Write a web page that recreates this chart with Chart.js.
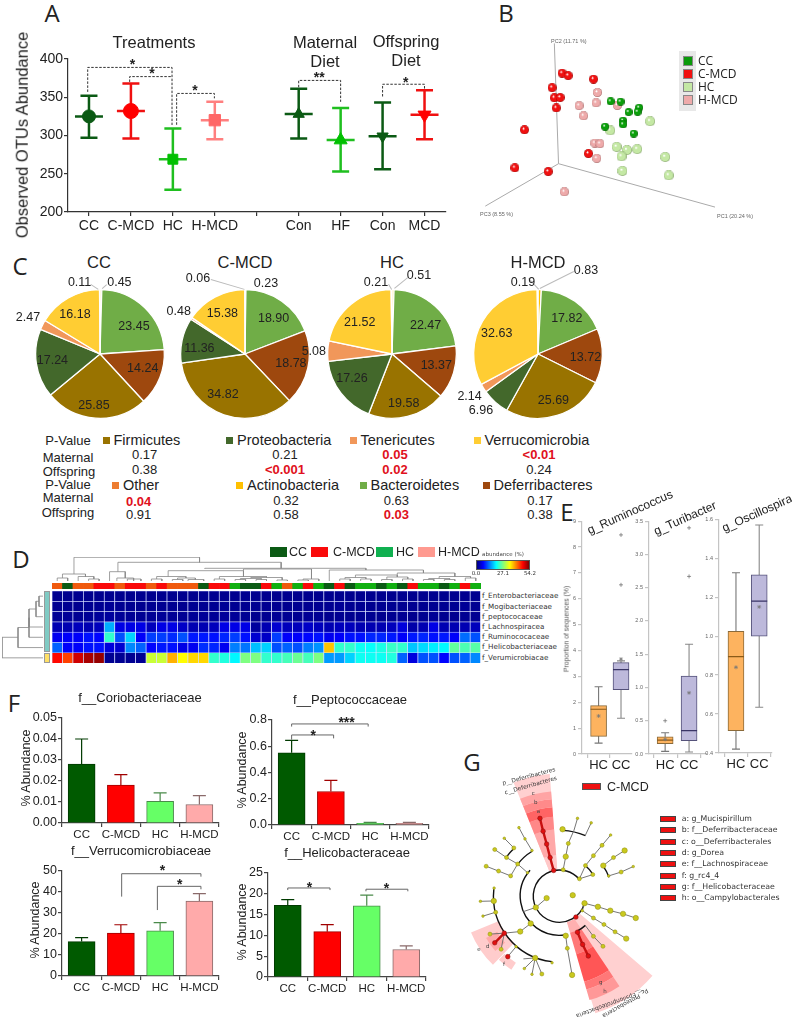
<!DOCTYPE html>
<html>
<head>
<meta charset="utf-8">
<title>Gut microbiota panels</title>
<style>
html, body { margin: 0; background: #fff; }
#page { position: relative; width: 792px; height: 1021px; overflow: hidden; font-family: "Liberation Sans", Arial, sans-serif; color: #222; }
canvas { position: absolute; }
.t { position: absolute; white-space: nowrap; line-height: 1; }
.b { position: absolute; }
</style>
<script src="https://cdn.jsdelivr.net/npm/chart.js@4"></script>
</head>
<body>
<div id="page"></div>
<script>
// ---- A: observed OTUs
const otuLabels = ["CC", "C-MCD", "HC", "H-MCD", "", "Con", "HF", "Con", "MCD"];
const otuMean = [325, 332, 269, 320, null, 328, 294, 299, 327];
const otuLow = [297, 296, 229, 295, null, 296, 253, 256, 295];
const otuHigh = [352, 368, 309, 344, null, 361, 336, 343, 359];

// ---- B: PCoA, projected positions on the plane of the picture
const pcCC = [[450,301],[481,302],[539,321],[534,334],[506,335],[489,362],[489,374],[433,381],[522,403]];
const pcCMCD = [[299,212],[318,220],[397,231],[268,258],[275,290],[293,289],[281,322],[182,391],[152,511],[256,523],[381,466]];
const pcHC = [[573,364],[449,393],[469,445],[501,455],[533,452],[484,475],[620,477],[487,521],[631,535]];
const pcHMCD = [[409,273],[405,306],[352,315],[366,347],[471,314],[401,433],[417,435],[407,481],[306,587]];
const pcAxes = [[[288,498],[275,118]], [[288,498],[775,635]], [[288,498],[60,632]]];

// ---- C: phylum composition
const phyla = ["Actinobacteria", "Bacteroidetes", "Deferribacteres", "Firmicutes", "Proteobacteria", "Tenericutes", "Verrucomicrobia", "Other"];
const pieCC = [0.45, 23.45, 14.24, 25.85, 17.24, 2.47, 16.18, 0.11];
const pieCMCD = [0.23, 18.90, 18.78, 34.82, 11.36, 0.48, 15.38, 0.06];
const pieHC = [0.51, 22.47, 13.37, 19.58, 17.26, 5.08, 21.52, 0.21];
const pieHMCD = [0.83, 17.82, 13.72, 25.69, 6.96, 2.14, 32.63, 0.19];

// ---- D: heat map, abundance %
const heatNames = ["f_Enterobacteriaceae", "f_Mogibacteriaceae", "f_peptococaceae", "f_Lachnospiracea", "f_Ruminococaceae", "f_Helicobacteriaceae", "f_Verumicrobiacae"];
const heatEntero = [.8,.8,.9,.8,.8,.9,.8,.8,.9,.8,.8,.9,.8,.8,.8,.9,.8,.8,.9,.8,.8,.8,.9,.8,.8,.8,.9,.8,.8,.9,.8,.8,.8,.9,.8,.8,.9,.8,.8,.8,.9];
const heatMogi = [1,1,.9,1,1,1.2,1,1,.9,1,1,1,.9,1,1,1,1.2,1,.9,1,1,1,.9,1,1,1,1,1.2,1,1,.9,1,1,1,1,.9,1,1,1,1.2,1];
const heatPepto = [1.2,1.3,1.1,1.2,1.4,1.6,1.3,1.2,1.1,1.2,1.3,1.2,1.1,1.2,1.3,1.2,1.4,1.3,1.1,.9,1,1.2,1.1,1,1.2,1.1,.8,1,.9,1,1,.9,1,1.1,.8,.9,1.2,.9,.9,1,1];
const heatLachno = [2.7,2.7,3.2,2.7,3.2,16,5.4,5.4,5.4,3.2,5.4,5.4,3.8,2.7,2.7,3.2,5.4,5.4,5.4,1.6,2.7,4.3,3.2,3.2,3.8,3.2,2.7,3.2,3.2,2.7,2.7,2.7,3.2,4.9,2.2,2.7,5.4,2.7,2.7,2.7,3.2];
const heatRumino = [6,6.5,6.5,7.6,7,23,11,18,6.5,10,10,9,11,8,8,7.6,8.7,10,7.6,4.3,3.8,10,6.5,6.5,7,7.6,6,6.5,7.6,7.6,8.7,8.7,8,6.5,8,8.7,7.6,8,6.5,12.5,11];
const heatHelico = [12,6.5,6.5,7.6,7.6,4.9,4.3,14,12,7,8,7.6,5.4,6,9.2,8.7,6,13.5,13,17,18,11,12,11,13.5,14.6,37,23,23,21,20.6,21.7,23.3,23,17.3,18.4,19.5,20,25.5,24.4,25];
const heatVerruco = [47,44,50,52,53,1,1,1,1,31,31,38,34,36,36,23,22,20,27,27,23,23,24,26,24,27,15,15,18,21,21,21,22,12,5,11,11,7,11,12,14];
const sampleGroup = ["H","C","H","H","M","M","H","M","M","H","M","H","H","H","C","M","M","G","C","C","M","G","H","G","M","G","C","M","C","G","G","C","G","C","M","G","G","C","G","M","G"];
// merges: left column, left height, right column, right height, top
const dendroTop = [
  [.5,1,1.5,1,4],[3.5,1,4.5,1,3],[2.5,1,4,3,5.5],[1,4,3.2,5.5,8],
  [6.2,1,7.8,1,4],[7.2,1,8.5,1,3],[5.5,1,7,4,10.3],
  [9.5,1,10.5,1,3],[11.5,1,12.5,1,2.5],[13,1,14.5,1,2.5],[12,2.5,13.7,2.5,4],[10,3,12.8,4,5.5],
  [15.5,1,16.5,1,3],[17.5,1,18.5,1,2.5],[19.5,1,20.5,1,2.5],[21.5,1,22.5,1,2],[18,2.5,20,2.5,3.5],[19,3.5,22,2,4.5],[16,3,20.5,4.5,5.5],
  [11.1,5.5,18.3,5.5,11.3],[23.5,1,24.5,1,2],[24,2,25.5,1,3],[18.3,11.3,24.8,3,13],
  [27.5,1,28.5,1,3],[29.5,1,30.5,1,3],[28,3,30,3,4.5],[31.5,1,32.5,1,2.5],[33.5,1,34.5,1,3],[32,2.5,34,3,5],[29,4.5,33,5,7],
  [35.5,1,36.5,1,2.5],[37.5,1,38.5,1,2.5],[39.5,1,40.5,1,4],[36,2.5,38,2.5,3.5],[37,3.5,40,4,5.5],[33,7,38.5,5.5,9],
  [26.5,1,35.5,9,12],[14.6,13,30,12,13.7],[6.3,10.3,21.9,13.7,19.7],[2.1,8,14.1,19.7,24.7]
];
const dendroLeft = [[0,0,1,0,4],[.5,4,2,0,7],[1.25,7,3,0,14],[2.1,14,4,0,14],[3.05,14,5,0,25],[4,25,6,0,41]];

// ---- E: box plots, [low, q1, median, q3, high] per group
const boxGroups = ["HC", "CC"];
const ruminoBox = [[.42,.68,1.73,1.87,2.6],[1.38,2.49,3.26,3.53,3.6]];
const ruminoMean = [1.47, 3.67];
const ruminoOut = [[2,6.54],[2,8.47]];
const turiBox = [[.04,.155,.21,.26,.32],[.03,.2,.35,1.17,1.65]];
const turiMean = [.22, .92];
const turiOut = [[1,.5],[2,2.67],[2,3.4]];
const oscilBox = [[.42,.515,.895,1.025,1.325],[.635,1,1.18,1.315,1.57]];
const oscilMean = [.84, 1.15];

// ---- F: bars with error
const barLabels = ["CC", "C-MCD", "HC", "H-MCD"];
const corioMean = [.028, .018, .0103, .0088];
const corioErr = [.04, .023, .0143, .013];
const peptoMean = [.55, .255, .012, .012];
const peptoErr = [.645, .34, .02, .02];
const verrMean = [16.4, 20.4, 21.5, 35.7];
const verrErr = [18.3, 24.4, 25.4, 39.2];
const heliMean = [17.2, 10.9, 17.1, 6.6];
const heliErr = [18.6, 12.6, 19.7, 7.5];

// ---- G: cladogram, positions on the plane of the picture
const cladoEdges = [
  [[370,448],[378,407],[386,366],[404,325],[415,288]], [[440,340],[458,302]],
  [[421,476],[440,435],[465,404],[492,372],[519,340]], [[421,476],[463,463]],
  [[496,435],[528,410],[563,388]], [[513,467],[552,455],[590,438]],
  [[284,565],[318,536]], [[284,565],[245,578]], [[268,615],[235,640],[185,645]],
  [[185,645],[140,648]], [[185,645],[175,695]], [[222,687],[196,718]],
  [[282,722],[248,755]], [[282,722],[272,773]], [[282,722],[303,772]], [[282,722],[245,725]],
  [[378,653],[383,692],[398,775]], [[152,545],[110,546]], [[158,580],[118,592]],
  [[227,430],[205,467],[167,452],[128,437]], [[227,430],[258,457]],
  [[272,388],[250,352],[231,317]], [[215,380],[185,350]], [[192,410],[155,385]], [[227,430],[192,410]],
  [[430,575],[437,552],[479,563],[518,575],[558,585],[598,598]],
  [[430,575],[465,598],[498,618],[533,641],[568,662]], [[440,622],[465,655],[495,686]]
];
const cladoRed = [[[340,450],[329,410],[318,368],[307,328],[297,288]], [[415,642],[431,680],[449,716]], [[185,645],[155,675]]];
const cladoRedNodes = [[340,450],[329,410],[318,368],[307,328],[297,288],[410,595],[415,642],[431,680],[449,716],[185,645],[155,675],[196,718]];
const cladoSmall = [[415,288],[458,302],[519,340],[590,438],[258,457],[185,350],[272,388],[231,317],[250,352],[153,505],[110,546],[118,592],[248,755],[272,773],[335,737],[222,687],[513,467],[430,575]];
const cladoMid = [[386,366],[440,435],[465,404],[492,372],[463,463],[528,410],[552,455],[465,598],[498,618],[533,641],[465,655],[495,686],[205,467],[167,452],[128,437],[192,410],[155,385],[215,380],[140,648],[175,695],[158,580],[383,692],[303,772],[227,430],[421,476],[370,448]];
const cladoLarge = [[378,407],[368,322],[496,435],[563,388],[437,552],[479,563],[518,575],[558,585],[598,598],[568,662],[284,565],[268,615],[235,640],[152,545],[282,722],[378,653],[398,775],[318,536],[400,527]];
const cladoLegend = ["a: g_Mucispirillum", "b: f__Deferribacteraceae", "c: o__Deferribacterales", "d: g_Dorea", "e: f__Lachnospiraceae", "f: g_rc4_4", "g: f__Helicobacteraceae", "h: o__Campylobacterales"];

const page = document.getElementById("page");
const FONT = '"Liberation Sans", Arial, sans-serif';
Chart.defaults.animation = false;
Chart.defaults.responsive = false;
Chart.defaults.font.family = FONT;
Chart.defaults.color = "#222";
Chart.defaults.events = [];
Chart.defaults.plugins.legend.display = false;
Chart.defaults.plugins.tooltip.enabled = false;

function txt(str, x, y, o) {
  o = o || {};
  const d = document.createElement("div");
  d.className = "t";
  d.textContent = str;
  d.style.left = x + "px";
  d.style.top = y + "px";
  d.style.fontSize = (o.size || 12) + "px";
  if (o.bold) d.style.fontWeight = "bold";
  if (o.color) d.style.color = o.color;
  if (o.font) d.style.fontFamily = o.font;
  const ax = o.left ? "0" : "-50%";
  d.style.transform = `translate(${ax},-50%) rotate(${o.rot || 0}deg)`;
  page.appendChild(d);
}

function box(x, y, w, h, bg, border) {
  const d = document.createElement("div");
  d.className = "b";
  d.style.cssText = `left:${x}px;top:${y}px;width:${w}px;height:${h}px;background:${bg};` + (border ? `box-sizing:border-box;border:1px solid ${border};` : "");
  page.appendChild(d);
  return d;
}

function seg(x1, y1, x2, y2, color) {
  const d = box(x1, y1, Math.hypot(x2 - x1, y2 - y1), 0.8, color || "#bbb");
  d.style.transformOrigin = "0 0";
  d.style.transform = `rotate(${Math.atan2(y2 - y1, x2 - x1)}rad)`;
}

function canvasAt(x, y, w, h) {
  const c = document.createElement("canvas");
  c.width = w;
  c.height = h;
  c.style.left = x + "px";
  c.style.top = y + "px";
  page.appendChild(c);
  return c;
}

// error bars and significance marks, all placed through the chart scales
const whiskerPlugin = {
  id: "whisker",
  beforeDatasetsDraw(chart, args, o) {
    if (!o.x) return;
    const { ctx, scales } = chart;
    ctx.save();
    o.x.forEach((v, i) => {
      const px = scales.x.getPixelForValue(v);
      const lo = scales.y.getPixelForValue(o.low[i]);
      const hi = scales.y.getPixelForValue(o.high[i]);
      ctx.strokeStyle = o.color[i];
      ctx.lineWidth = o.width;
      ctx.beginPath();
      ctx.moveTo(px, lo); ctx.lineTo(px, hi);
      ctx.moveTo(px - o.cap, hi); ctx.lineTo(px + o.cap, hi);
      if (o.lowCap !== false) { ctx.moveTo(px - o.cap, lo); ctx.lineTo(px + o.cap, lo); }
      ctx.stroke();
    });
    ctx.restore();
  },
  afterDatasetsDraw(chart, args, o) {
    const { ctx, scales } = chart;
    ctx.save();
    (o.brackets || []).forEach(b => {
      ctx.strokeStyle = o.bracketColor || "#555";
      ctx.lineWidth = o.bracketWidth || 1;
      ctx.setLineDash(o.dash || []);
      ctx.beginPath();
      ctx.moveTo(scales.x.getPixelForValue(b[0]), scales.y.getPixelForValue(b[1]));
      ctx.lineTo(scales.x.getPixelForValue(b[0]), scales.y.getPixelForValue(b[4]));
      ctx.lineTo(scales.x.getPixelForValue(b[2]), scales.y.getPixelForValue(b[4]));
      ctx.lineTo(scales.x.getPixelForValue(b[2]), scales.y.getPixelForValue(b[3]));
      ctx.stroke();
    });
    ctx.setLineDash([]);
    ctx.fillStyle = "#222";
    ctx.font = `bold 14px ${FONT}`;
    ctx.textAlign = "center";
    ctx.textBaseline = "middle";
    (o.stars || []).forEach(s => {
      ctx.fillText(s[2], scales.x.getPixelForValue(s[0]), scales.y.getPixelForValue(s[1]) + 3);
    });
    ctx.restore();
  }
};
Chart.register(whiskerPlugin);

function axes(m, xo, yo) {
  const line = xo.line || "#333";
  return {
    x: Object.assign({
      grid: { drawOnChartArea: false, tickLength: 4, color: line, lineWidth: 1.2 },
      border: { color: line, width: 1.2 },
      afterFit: s => { s.height = m.b; }
    }, xo),
    y: Object.assign({
      grid: { drawOnChartArea: false, tickLength: 4, color: line, lineWidth: 1.2 },
      border: { color: line, width: 1.2 },
      afterFit: s => { s.width = m.l; }
    }, yo)
  };
}

// l, t, r, b of the plot area on the page, m = room around it on the canvas
function plot(r, m, cfg) {
  const c = canvasAt(r[0] - m.l, r[1] - m.t, r[2] - r[0] + m.l + m.r, r[3] - r[1] + m.t + m.b);
  cfg.options.layout = { padding: { top: m.t, right: m.r, left: 0, bottom: 0 } };
  return new Chart(c, cfg);
}

// plain chart filling its canvas, no axes drawn
function bare(x, y, w, h, xs, ys, cfg) {
  const c = canvasAt(x, y, w, h);
  cfg.options = Object.assign({}, cfg.options, {
    layout: { padding: 0 },
    scales: { x: Object.assign({ display: false }, xs), y: Object.assign({ display: false }, ys) }
  });
  return new Chart(c, cfg);
}

const toXY = a => a.map(p => ({ x: p[0], y: p[1] }));
const breakUp = lines => lines.flatMap(l => toXY(l).concat({ x: NaN, y: NaN }));

// ---------- panel letters
[["A", 52, 13], ["B", 506, 13], ["C", 20, 266], ["D", 21, 559], ["E", 567, 512], ["F", 14, 703], ["G", 472, 762]].forEach(l => {
  txt(l[0], l[1], l[2], { size: 24, font: '"Open Sans", sans-serif' });
});

// ---------- A
const otuColor = ["#0b5a14", "#f01010", "#1fbf1f", "#ff7f7f", null, "#0b5a14", "#1fbf1f", "#0b5a14", "#f01010"];
const otuFill = ["#0b5a14", "#ff0000", "#00c000", "#ff6666", null, "#0b5a14", "#00c000", "#0b5a14", "#ff0000"];
const otuIdx = [0, 1, 2, 3, 5, 6, 7, 8];
plot([68, 59, 452, 212], { l: 46, t: 22, r: 10, b: 26 }, {
  type: "line",
  data: {
    labels: otuLabels,
    datasets: [
      {
        data: otuMean, showLine: false, pointBackgroundColor: otuFill, pointBorderColor: otuFill,
        pointStyle: ["circle", "circle", "rect", "rect", "circle", "triangle", "triangle", "triangle", "triangle"],
        pointRadius: [6.5, 7.5, 7, 8, 0, 6.5, 7.5, 6.5, 7.5],
        pointRotation: [0, 0, 0, 0, 0, 0, 0, 180, 180]
      },
      {
        data: otuMean, showLine: false, pointStyle: "line", pointRadius: 14,
        pointBorderColor: otuColor, pointBorderWidth: 2.5
      }
    ]
  },
  options: {
    scales: axes({ l: 46, b: 26 },
      { type: "category", offset: true, ticks: { font: { size: 14 }, padding: 2, autoSkip: false, maxRotation: 0 } },
      { min: 200, max: 400, ticks: { stepSize: 50, font: { size: 14 }, padding: 1 } }),
    plugins: {
      whisker: {
        x: otuIdx, low: otuIdx.map(i => otuLow[i]), high: otuIdx.map(i => otuHigh[i]),
        color: otuIdx.map(i => otuColor[i]), width: 2.5, cap: 8.5,
        dash: [2.5, 1.5], bracketColor: "#333",
        brackets: [[-.03,357,1.98,313.7,389],[.97,370,1.98,377,377],[2.09,314,2.99,348.6,355],[5,363,6,344,372],[7,351,8,360,367]],
        stars: [[1.04,396,"*"],[1.5,384,"*"],[2.53,362,"*"],[5.49,378.6,"**"],[7.55,373,"*"]]
      }
    }
  }
});
txt("Observed OTUs Abundance", 22, 135, { size: 16.5, rot: -90 });
txt("Treatments", 154, 42, { size: 16.5 });
txt("Maternal", 325, 42, { size: 16.5 });
txt("Diet", 325, 61, { size: 16.5 });
txt("Offspring", 406, 41, { size: 16.5 });
txt("Diet", 406, 60, { size: 16.5 });

// ---------- B
function sphere(base, dark, r) {
  const c = document.createElement("canvas");
  c.width = c.height = r * 2;
  const g = c.getContext("2d");
  const grad = g.createRadialGradient(r * .75, r * .7, r * .1, r, r, r);
  grad.addColorStop(0, "#fff");
  grad.addColorStop(.25, base);
  grad.addColorStop(.8, base);
  grad.addColorStop(1, dark);
  g.fillStyle = grad;
  g.arc(r, r, r, 0, Math.PI * 2);
  g.fill();
  return c;
}
const pcSets = [
  [pcCC, sphere("#0aa00a", "#055a05", 4)],
  [pcHC, sphere("#c4e8a4", "#7a9a60", 5)],
  [pcHMCD, sphere("#eeaaaa", "#a06060", 4.5)],
  [pcCMCD, sphere("#f01010", "#900000", 4.5)]
];
bare(460, 0, 332, 240, { type: "linear", min: 0, max: 996 }, { type: "linear", min: 0, max: 720, reverse: true }, {
  type: "scatter",
  data: {
    datasets: pcSets.map(s => ({ data: toXY(s[0]), pointStyle: s[1], pointRadius: 5 })).concat({
      data: breakUp(pcAxes), showLine: true, borderColor: "#aaa", borderWidth: 1, pointRadius: 0
    })
  },
  options: {}
});
txt("PC2 (11.71 %)", 551, 42, { size: 5.5, left: true, color: "#666" });
txt("PC1 (20.24 %)", 717, 217, { size: 5.5, left: true, color: "#666" });
txt("PC3 (8.55 %)", 480, 215, { size: 5.5, left: true, color: "#666" });
box(679, 51, 17, 60, "#e8e8e8");
[["CC", "#0a9a0a", 61], ["C-MCD", "#f01010", 74], ["HC", "#c4e8a4", 87], ["H-MCD", "#eeaaaa", 100]].forEach(l => {
  box(683, l[2] - 5, 10, 10, l[1], "#888");
  txt(l[0], 698, l[2], { size: 12, left: true, font: '"Open Sans", sans-serif' });
});

// ---------- C
const phylaColor = ["#ffc000", "#70ad47", "#9e480e", "#997300", "#43682b", "#f1975a", "#ffcd33", "#ed7d31"];
[[pieCC, 99.5], [pieCMCD, 245], [pieHC, 392], [pieHMCD, 538]].forEach(p => {
  const c = canvasAt(p[1] - 66, 354 - 66, 132, 132);
  new Chart(c, {
    type: "pie",
    data: { labels: phyla, datasets: [{ data: p[0], backgroundColor: phylaColor, borderColor: "#fff", borderWidth: 1.3 }] },
    options: { layout: { padding: 1 } }
  });
});
[["CC", 99], ["C-MCD", 245], ["HC", 392], ["H-MCD", 538]].forEach(l => txt(l[0], l[1], 262, { size: 16.5 }));
[[91,284,98.7,289],[107,285,102.5,289],[211,279,245,289],[407.6,278,394,289],[389,284,392,289],[574,272,540,289],[529,278,539,289]].forEach(s => seg(s[0], s[1], s[2], s[3]));
[
  [0.11,79.6,282],[0.45,119.4,282],[2.47,28,317],[16.18,75,314],[23.45,134,326],[14.24,142.7,368],[25.85,94,405],[17.24,52.4,360],
  [0.06,198,278],[0.23,266,283],[0.48,178.7,311],[15.38,222.4,313],[18.90,273.6,318],[18.78,290.9,363],[34.82,223,394],[11.36,199.4,348],
  [0.21,376,282],[0.51,419,275],[5.08,313.8,351],[21.52,359.7,322],[22.47,425.6,325],[13.37,436.3,365],[19.58,403.7,403],[17.26,352,378],
  [0.19,523,282],[0.83,586,270],[32.63,496.7,333],[17.82,566.8,318],[13.72,585.5,357],[25.69,553.4,400],[6.96,481,410],[2.14,469.6,396]
].forEach(l => txt(l[0].toFixed(2), l[1], l[2], { size: 12.5 }));

// p-value table
[["Firmicutes", "#997300", 106, 440], ["Proteobacteria", "#43682b", 229.6, 440], ["Tenericutes", "#f1975a", 353, 440], ["Verrucomicrobia", "#ffcd33", 477, 440],
 ["Other", "#ed7d31", 115.4, 485], ["Actinobacteria", "#ffc000", 239.6, 485], ["Bacteroidetes", "#70ad47", 363, 485], ["Deferribacteres", "#9e480e", 486, 485]].forEach(l => {
  box(l[2] - 3.5, l[3] - 3.5, 7, 7, l[1]);
  txt(l[0], l[2] + 7.5, l[3], { size: 14.5, left: true });
});
[["P-Value", 68, 440], ["Maternal", 68, 457], ["Offspring", 69, 471], ["P-Value", 68, 484], ["Maternal", 68, 497], ["Offspring", 68, 511.5]].forEach(l => txt(l[0], l[1], l[2], { size: 13 }));
[
  ["0.17",144.7,454],["0.21",285,454],["0.05",395,454,1],["<0.01",539,454,1],
  ["0.38",144.7,469],["<0.001",285,469,1],["0.02",395,469,1],["0.24",539,469],
  ["0.04",138.6,500.5,1],["0.32",286,500],["0.63",396.4,500],["0.17",540,500],
  ["0.91",138.6,514],["0.58",286,514],["0.03",396.4,514,1],["0.38",540,514]
].forEach(l => txt(l[0], l[1], l[2], l[3] ? { size: 13, bold: true, color: "#e01020" } : { size: 13 }));

// ---------- D
function jet(f) {
  const c = v => Math.round(255 * Math.max(0, Math.min(1, 1.5 - Math.abs(4 * f - v))));
  return `rgb(${c(3)},${c(2)},${c(1)})`;
}
const heatRows = [heatVerruco, heatHelico, heatRumino, heatLachno, heatPepto, heatMogi, heatEntero];
const sampleIds = sampleGroup.map((g, i) => String(i + 1));
plot([52, 591, 481, 663], { l: 0, t: 0, r: 0, b: 9 }, {
  type: "bar",
  data: {
    labels: sampleIds,
    datasets: heatRows.map(row => ({
      data: row.map(() => 1),
      backgroundColor: row.map(v => jet(v / 54.2)),
      borderColor: "rgba(205,215,255,.8)", borderWidth: 0.7,
      barPercentage: 1, categoryPercentage: 1
    }))
  },
  options: {
    scales: {
      x: {
        stacked: true, border: { display: false }, grid: { display: false },
        ticks: { font: { size: 3 }, color: "#999", padding: 2, autoSkip: false, maxRotation: 90, minRotation: 90 },
        afterFit: s => { s.height = 9; }
      },
      y: { stacked: true, display: false, min: 0, max: 7 }
    }
  }
});
const groupColor = { H: "#f05a0e", C: "#0b5a14", M: "#fa0a0a", G: "#10b010" };
bare(52, 583, 429, 6, { type: "category", stacked: true }, { min: 0, max: 1 }, {
  type: "bar",
  data: { labels: sampleIds, datasets: [{ data: sampleGroup.map(() => 1), backgroundColor: sampleGroup.map(g => groupColor[g]), barPercentage: 1, categoryPercentage: 1 }] },
  options: {}
});
const uShape = m => [[m[0], m[1]], [m[0], m[4]], [m[2], m[4]], [m[2], m[3]]];
bare(52, 557, 429, 25, { type: "linear", min: 0, max: 41 }, { type: "linear", min: 0, max: 25 }, {
  type: "scatter",
  data: { datasets: [{ data: breakUp(dendroTop.map(uShape)), showLine: true, borderColor: "#888", borderWidth: 0.8, pointRadius: 0 }] },
  options: {}
});
bare(2, 591, 41, 72, { type: "linear", min: 0, max: 41, reverse: true }, { type: "linear", min: -.5, max: 6.5, reverse: true }, {
  type: "scatter",
  data: { datasets: [{ data: breakUp(dendroLeft.map(m => uShape(m).map(p => [p[1], p[0]]))), showLine: true, borderColor: "#888", borderWidth: 0.8, pointRadius: 0 }] },
  options: {}
});
box(43.5, 591, 6, 61, "#80cbc4", "#999");
box(43.5, 653, 6, 10, "#ffe066", "#999");
heatNames.forEach((n, i) => txt(n, 482, 596.4 + 10.2 * i, { size: 7.2, left: true, font: '"DejaVu Sans", sans-serif', color: "#333" }));
[["CC", "#0b5a14", 269.5, 289], ["C-MCD", "#fa0a0a", 311, 333], ["HC", "#10b050", 376, 396], ["H-MCD", "#ff9a90", 418, 438]].forEach(l => {
  box(l[2], 547, 17, 10, l[1]);
  txt(l[0], l[3], 552, { size: 12.5, left: true });
});
txt("abundance (%)", 503, 555, { size: 5.5, color: "#444", font: '"DejaVu Sans", sans-serif' });
const cbar = box(476, 560, 54, 9.5, "#fff", "#555");
cbar.style.background = "linear-gradient(to right,#00007f,#0000ff 12%,#00ffff 37%,#80ff80 50%,#ffff00 63%,#ff0000 88%,#7f0000)";
[["0.0", 476], ["27.1", 503], ["54.2", 530]].forEach(l => txt(l[0], l[1], 574, { size: 5.5, color: "#333", font: '"DejaVu Sans", sans-serif' }));

// ---------- E
function boxChart(r, xMin, xMax, yMin, yMax, step, digits, boxes, means, outliers) {
  const m = { l: 16, t: 8, r: 16, b: 18 };
  const bx = [1, 2];
  plot(r, m, {
    data: {
      datasets: [
        { type: "line", data: means.map((v, i) => ({ x: bx[i], y: v })), showLine: false, pointStyle: "star", pointRadius: 2, pointBorderColor: "#777", pointBorderWidth: .7, order: 0 },
        { type: "line", data: outliers.map(o => ({ x: o[0], y: o[1] })), showLine: false, pointStyle: "crossRot", pointRotation: 45, pointRadius: 2, pointBorderColor: "#666", pointBorderWidth: .7, order: 0 },
        { type: "line", data: boxes.map((b, i) => ({ x: bx[i], y: b[2] })), showLine: false, pointStyle: "line", pointRadius: 8, pointBorderColor: ["#8a5a18", "#3a3566"], pointBorderWidth: 1.2, order: 0 },
        {
          type: "bar", data: boxes.map((b, i) => ({ x: bx[i], y: [b[1], b[3]] })), barThickness: 16,
          backgroundColor: ["#fdb35f", "#bdb9db"], borderColor: ["#8a6a3a", "#55527a"], borderWidth: 1, borderSkipped: false, order: 1
        }
      ]
    },
    options: {
      scales: axes(m,
        {
          type: "linear", min: xMin, max: xMax, offset: false, line: "#c4c4c4",
          afterBuildTicks: s => { s.ticks = bx.map(v => ({ value: v })); },
          ticks: { font: { size: 13 }, padding: 0, maxRotation: 0, autoSkip: false, callback: v => boxGroups[v - 1] }
        },
        { min: yMin, max: yMax, line: "#c4c4c4", ticks: { stepSize: step, font: { size: 5.5 }, color: "#666", padding: 2, callback: v => v.toFixed(digits) } }),
      plugins: { whisker: { x: bx, low: boxes.map(b => b[0]), high: boxes.map(b => b[4]), color: ["#777", "#888"], width: 1.1, cap: 4 } }
    }
  });
}
boxChart([582, 520, 632, 754], .26, 2.49, 0, 9, 1, 0, ruminoBox, ruminoMean, ruminoOut);
boxChart([649, 520, 707, 754], .325, 2.75, 0, 3.5, .5, 1, turiBox, turiMean, turiOut);
boxChart([719, 518, 772, 753], .27, 2.55, .4, 1.6, .2, 1, oscilBox, oscilMean, []);
txt("Proportion of sequences (%)", 566.7, 629, { size: 6.8, rot: -90, color: "#555" });
txt("g_Ruminococcus", 630, 512, { size: 12, rot: -24 });
txt("g_Turibacter", 685, 518, { size: 12, rot: -24 });
txt("g_Oscillospira", 757, 513, { size: 12, rot: -24 });

// ---------- F
const barFill = ["#005a00", "#ff0000", "#66ff66", "#ffaaaa"];
const barEdge = ["#003a00", "#a00000", "#4a8a4a", "#8a6a6a"];
function barChart(r, max, step, digits, mean, err, extra) {
  const m = { l: 38, t: 20, r: 12, b: 20 };
  plot(r, m, {
    type: "bar",
    data: { labels: barLabels, datasets: [{ data: mean, barThickness: 27, backgroundColor: barFill, borderColor: barEdge, borderWidth: 1 }] },
    options: {
      scales: axes(m,
        { type: "category", line: "#444", ticks: { font: { size: 11.5 }, padding: 1, maxRotation: 0, autoSkip: false } },
        { min: 0, max: max, line: "#444", ticks: { stepSize: step, font: { size: 12.5 }, padding: 1, callback: v => v.toFixed(digits) } }),
      plugins: {
        whisker: Object.assign({
          x: [0, 1, 2, 3], low: mean, high: err, color: barEdge, width: 1.2, cap: 6.5, lowCap: false,
          bracketColor: "#666"
        }, extra)
      }
    }
  });
}
barChart([62, 718, 219, 823], .05, .01, 2, corioMean, corioErr, {});
barChart([272, 720, 429, 825], .8, .2, 1, peptoMean, peptoErr, {
  brackets: [[0, .65, 1.07, .66, .686], [0, .75, 1.95, .75, .77]],
  stars: [[.55, .7, "*"], [1.4, .8, "***"]]
});
barChart([62, 871, 219, 976], 50, 10, 0, verrMean, verrErr, {
  brackets: [[1.02, 37.8, 3.04, 47.3, 48.7], [1.93, 31.4, 3.04, 41.3, 42.7]],
  stars: [[2.06, 51.5, "*"], [2.5, 44.5, "*"]]
});
barChart([268, 873, 426, 977], 25, 5, 0, heliMean, heliErr, {
  brackets: [[0, 20.9, 1.07, 20.9, 21.4], [1.98, 20.6, 3.04, 20.6, 21.1]],
  stars: [[.55, 22.1, "*"], [2.5, 21.8, "*"]]
});
txt("f__Coriobacteriaceae", 140, 697, { size: 13 });
txt("f__Peptococcaceae", 350, 699, { size: 13 });
txt("f__Verrucomicrobiaceae", 141, 850, { size: 13 });
txt("f__Helicobacteraceae", 347, 852, { size: 13 });
[[25.7, 768], [241.7, 770], [35, 920], [241.7, 922]].forEach(p => txt("% Abundance", p[0], p[1], { size: 12.5, rot: -90 }));

// ---------- G
const cladoCenter = [358, 530];
// inner r, outer r, edge ray point 1, edge ray point 2 (clockwise), colour
const cladoWedges = [
  [85,385,215,175,328,150,"#ffd0d0"], [85,130,215,175,328,150,"#ffc8c8"], [130,210,215,175,328,150,"#ffa8a8"], [210,250,215,175,328,150,"#ff8888"],
  [250,280,215,175,328,150,"#ff6464"], [280,305,215,175,328,150,"#ff8a8a"], [305,330,215,175,328,150,"#ffa4a4"],
  [85,385,650,780,470,895,"#ffd0d0"], [85,120,545,810,445,830,"#ffb0b0"], [120,190,545,810,445,830,"#ff7878"], [190,280,545,810,445,830,"#ff5656"],
  [280,305,545,810,445,830,"#ff7878"], [305,340,545,810,445,830,"#ff9898"],
  [205,300,150,745,78,645,"#ffcccc"], [225,265,160,700,130,660,"#ffaaaa"], [250,276,208,760,185,712,"#ffcccc"]
];
// radius, arc start point, arc end point (clockwise)
const cladoArcs = [
  [82,437,552,421,476], [123,378,653,262,445], [165,225,430,272,388], [207,335,737,152,508],
  [207,368,322,440,340], [207,192,410,215,380], [126,440,433,463,463], [167,495,435,515,470], [123,440,622,415,642]
];
const cladoPlugin = {
  id: "clado",
  beforeDatasetsDraw(chart) {
    if (!chart.options.plugins.clado) return;
    const { ctx, scales } = chart;
    const cx = scales.x.getPixelForValue(cladoCenter[0]);
    const cy = scales.y.getPixelForValue(cladoCenter[1]);
    const k = Math.abs(scales.x.getPixelForValue(1) - scales.x.getPixelForValue(0));
    const ang = (x, y) => Math.atan2(y - cladoCenter[1], x - cladoCenter[0]);
    ctx.save();
    cladoWedges.forEach(w => {
      const a1 = ang(w[2], w[3]), a2 = ang(w[4], w[5]);
      ctx.fillStyle = w[6];
      ctx.beginPath();
      ctx.arc(cx, cy, w[1] * k, a1, a2, false);
      ctx.arc(cx, cy, w[0] * k, a2, a1, true);
      ctx.closePath();
      ctx.fill();
    });
    ctx.strokeStyle = "#111";
    ctx.lineWidth = 1.4;
    cladoArcs.forEach(a => {
      ctx.beginPath();
      ctx.arc(cx, cy, a[0] * k, ang(a[1], a[2]), ang(a[3], a[4]), false);
      ctx.stroke();
    });
    ctx.restore();
  }
};
Chart.register(cladoPlugin);
const nodeStyle = (pts, r) => ({ data: toXY(pts), pointRadius: r, pointBackgroundColor: "#c9c81e", pointBorderColor: "#8f8f10", pointBorderWidth: .5 });
bare(460, 763, 200, 257, { type: "linear", min: 60, max: 660 }, { type: "linear", min: 130, max: 901, reverse: true }, {
  type: "scatter",
  data: {
    datasets: [
      { data: toXY(cladoRedNodes), pointRadius: 2.3, pointBackgroundColor: "#e01010", pointBorderColor: "#801010", pointBorderWidth: .5 },
      nodeStyle(cladoLarge, 2.7), nodeStyle(cladoMid, 2), nodeStyle(cladoSmall, 1.3),
      { data: breakUp(cladoRed), showLine: true, borderColor: "#c81010", borderWidth: 2.4, pointRadius: 0 },
      { data: breakUp(cladoEdges), showLine: true, borderColor: "#666", borderWidth: .9, pointRadius: 0 }
    ]
  },
  options: { plugins: { clado: {} } }
});
const zx = v => 440 + v / 3, zy = v => 720 + v / 3;
[["a",295,275],["b",287,249],["c",280,223],["g",482,790],["h",495,817],["e",117,690],["d",143,682],["f",192,735]].forEach(l => {
  txt(l[0], zx(l[1]), zy(l[2]), { size: 5.5, color: "#444", font: '"DejaVu Sans", sans-serif' });
});
[["p__Deferribacteres",267,170,-15],["c__Deferribacteres",274,198,-16],["c__Epsilonproteobacteria",510,848,160],["p__Proteobacteria",555,848,151]].forEach(l => {
  txt(l[0], zx(l[1]), zy(l[2]), { size: 5.8, rot: l[3], color: "#333", font: '"DejaVu Sans", sans-serif' });
});
box(582, 783, 19, 7, "#ee1010", "#555");
txt("C-MCD", 607, 787, { size: 12.5, left: true });
cladoLegend.forEach((n, i) => {
  box(660, 816 + 11.3 * i, 16, 6, "#ee1010", "#444");
  txt(n, 681.7, 819 + 11.35 * i, { size: 7.8, left: true, color: "#333", font: '"DejaVu Sans", sans-serif' });
});
</script>
</body>
</html>
